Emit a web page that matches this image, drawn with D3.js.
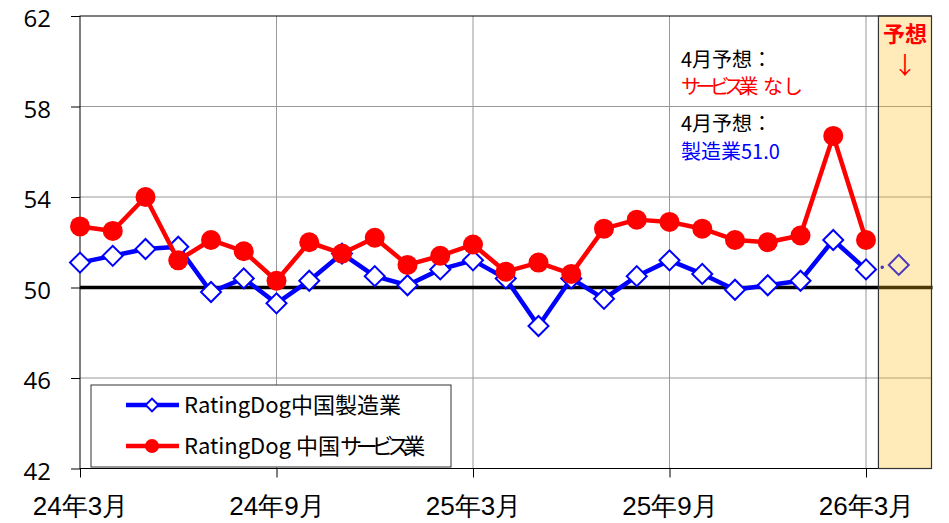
<!DOCTYPE html>
<html>
<head>
<meta charset="utf-8">
<script src="https://cdn.jsdelivr.net/npm/d3@7"></script>
<style>
  body { margin: 0; background: #fff; }
  svg { font-family: "Noto Sans CJK JP", "Noto Sans", sans-serif; }
</style>
</head>
<body>
<div id="chart"></div>
<script>
// Chart values
const xTickIndex = [0, 6, 12, 18, 24];
const xTickLabels = ["24年3月", "24年9月", "25年3月", "25年9月", "26年3月"];
const yTicks = [42, 46, 50, 54, 58, 62];

// RatingDog China manufacturing PMI, 24/3 .. 26/3
const manufacturing = [51.1, 51.4, 51.7, 51.8, 49.8, 50.4, 49.3, 50.3, 51.5, 50.5, 50.1, 50.8,
  51.2, 50.4, 48.3, 50.4, 49.5, 50.5, 51.2, 50.6, 49.9, 50.1, 50.3, 52.1, 50.8];
// RatingDog China services PMI, 24/3 .. 26/3
const services = [52.7, 52.5, 54.0, 51.2, 52.1, 51.6, 50.3, 52.0, 51.5, 52.2, 51.0, 51.4,
  51.9, 50.7, 51.1, 50.6, 52.6, 53.0, 52.9, 52.6, 52.1, 52.0, 52.3, 56.7, 52.1];
// April forecast (manufacturing only)
const mfgForecast = 51.0;

const W = 949, H = 523;
const plot = { left: 80, right: 931.5, top: 16, bottom: 468.5 };

const svg = d3.select("#chart").append("svg")
  .attr("width", W).attr("height", H);

const x = d3.scaleLinear().domain([0, 26]).range([plot.left, plot.right]);
const y = d3.scaleLinear().domain([42, 62]).range([plot.bottom, plot.top]);

// Gridlines
svg.append("g").selectAll("line")
  .data(yTicks.filter((d) => d !== 42 && d !== 62 && d !== 50))
  .enter().append("line")
  .attr("x1", plot.left).attr("x2", plot.right)
  .attr("y1", (d) => y(d)).attr("y2", (d) => y(d))
  .attr("stroke", "#999").attr("stroke-width", 1);

svg.append("g").selectAll("line")
  .data(xTickIndex.slice(1))
  .enter().append("line")
  .attr("x1", (d) => x(d)).attr("x2", (d) => x(d))
  .attr("y1", plot.top).attr("y2", plot.bottom)
  .attr("stroke", "#999").attr("stroke-width", 1);

// Plot frame
svg.append("rect")
  .attr("x", plot.left).attr("y", plot.top)
  .attr("width", plot.right - plot.left).attr("height", plot.bottom - plot.top)
  .attr("fill", "none").attr("stroke", "#000").attr("stroke-width", 1);

// 50 line
svg.append("line")
  .attr("x1", plot.left).attr("x2", plot.right + 1)
  .attr("y1", y(50)).attr("y2", y(50))
  .attr("stroke", "#000").attr("stroke-width", 3.5);

// Axes
const yAxis = svg.append("g")
  .attr("transform", `translate(${plot.left},0)`)
  .call(d3.axisLeft(y).tickValues(yTicks).tickSize(9).tickPadding(20));
yAxis.select(".domain").remove();
yAxis.selectAll("line").attr("stroke", "#000");
yAxis.selectAll("text").attr("font-size", 24).attr("fill", "#000")
  .attr("dy", "0.44em")
  .attr("font-family", "'Open Sans', 'Noto Sans', sans-serif");

const xAxis = svg.append("g")
  .attr("transform", `translate(0,${plot.bottom})`)
  .call(d3.axisBottom(x).tickValues(xTickIndex).tickSize(9)
    .tickFormat((d, i) => xTickLabels[i]));
xAxis.select(".domain").remove();
xAxis.selectAll("line").attr("stroke", "#000");
xAxis.selectAll("text").attr("font-size", 26).attr("fill", "#000")
  .attr("y", 46).attr("dy", 0);

// Manufacturing line
const line = d3.line().x((d, i) => x(i)).y((d) => y(d));

svg.append("path")
  .datum(manufacturing)
  .attr("fill", "none").attr("stroke", "#0000FF").attr("stroke-width", 4.5)
  .attr("stroke-linejoin", "round")
  .attr("d", line);

// dotted link to forecast
const last = manufacturing.length - 1;
svg.append("line")
  .attr("x1", x(last)).attr("y1", y(manufacturing[last]))
  .attr("x2", x(last + 1)).attr("y2", y(mfgForecast))
  .attr("stroke", "#0000FF").attr("stroke-width", 3.5)
  .attr("stroke-dasharray", "0.1,16.3").attr("stroke-linecap", "round");

const diamond = d3.symbol().type(d3.symbolSquare).size(200);

svg.append("g").selectAll("path")
  .data(manufacturing.concat([mfgForecast]))
  .enter().append("path")
  .attr("d", diamond)
  .attr("transform", (d, i) => `translate(${x(i)},${y(d)}) rotate(45)`)
  .attr("fill", "#fff").attr("stroke", "#0000FF").attr("stroke-width", 2);

// Services line
svg.append("path")
  .datum(services)
  .attr("fill", "none").attr("stroke", "#FF0000").attr("stroke-width", 4.5)
  .attr("stroke-linejoin", "round")
  .attr("d", line);

svg.append("g").selectAll("circle")
  .data(services)
  .enter().append("circle")
  .attr("cx", (d, i) => x(i)).attr("cy", (d) => y(d))
  .attr("r", 10).attr("fill", "#FF0000");

// Forecast band
const bandLeft = x(24.38);
svg.append("rect")
  .attr("x", bandLeft).attr("y", plot.top)
  .attr("width", plot.right - bandLeft).attr("height", plot.bottom - plot.top)
  .attr("fill", "#FFBE1C").attr("fill-opacity", 0.3)
  .attr("stroke", "#333").attr("stroke-width", 1.2);

svg.append("text")
  .attr("x", (bandLeft + plot.right) / 2).attr("y", 42)
  .attr("text-anchor", "middle").attr("font-size", 22).attr("font-weight", "bold")
  .attr("fill", "#FF0000").text("予想");
svg.append("text")
  .attr("x", (bandLeft + plot.right) / 2).attr("y", 74)
  .attr("text-anchor", "middle").attr("font-size", 24)
  .attr("fill", "#FF0000").text("↓");

// Katakana in the source font is narrower than full width
function addText(sel, parts) {
  parts.forEach((p) => {
    const t = sel.append("tspan").text(p);
    if (/[ァ-ヶー]/.test(p)) t.attr("letter-spacing", "-0.28em");
  });
}

// Annotations
const notes = [
  { parts: ["4月予想："], color: "#000", y: 67 },
  { parts: ["サービス", "業 なし"], color: "#FF0000", y: 94 },
  { parts: ["4月予想："], color: "#000", y: 131 },
  { parts: ["製造業51.0"], color: "#0000FF", y: 159 }
];
notes.forEach((d) => {
  const t = svg.append("text")
    .attr("x", 681).attr("y", d.y)
    .attr("font-size", 20).attr("fill", d.color);
  addText(t, d.parts);
});

// Legend
const legend = svg.append("g");
legend.append("rect")
  .attr("x", 91).attr("y", 385).attr("width", 360).attr("height", 82)
  .attr("fill", "#fff").attr("stroke", "#333").attr("stroke-width", 1);

const legendItems = [
  { parts: ["RatingDog中国製造業"], color: "#0000FF", y: 405, mark: "diamond" },
  { parts: ["RatingDog 中国", "サービス", "業"], color: "#FF0000", y: 446, mark: "circle" }
];
legendItems.forEach((d) => {
  legend.append("line")
    .attr("x1", 126).attr("x2", 179).attr("y1", d.y).attr("y2", d.y)
    .attr("stroke", d.color).attr("stroke-width", 4.5);
  if (d.mark === "diamond") {
    legend.append("path")
      .attr("d", d3.symbol().type(d3.symbolSquare).size(80))
      .attr("transform", `translate(152,${d.y}) rotate(45)`)
      .attr("fill", "#fff").attr("stroke", d.color).attr("stroke-width", 2);
  } else {
    legend.append("circle")
      .attr("cx", 152).attr("cy", d.y).attr("r", 7).attr("fill", d.color);
  }
  const t = legend.append("text")
    .attr("x", 184).attr("y", d.y + 8)
    .attr("font-size", 22).attr("fill", "#000");
  addText(t, d.parts);
});
</script>
</body>
</html>
